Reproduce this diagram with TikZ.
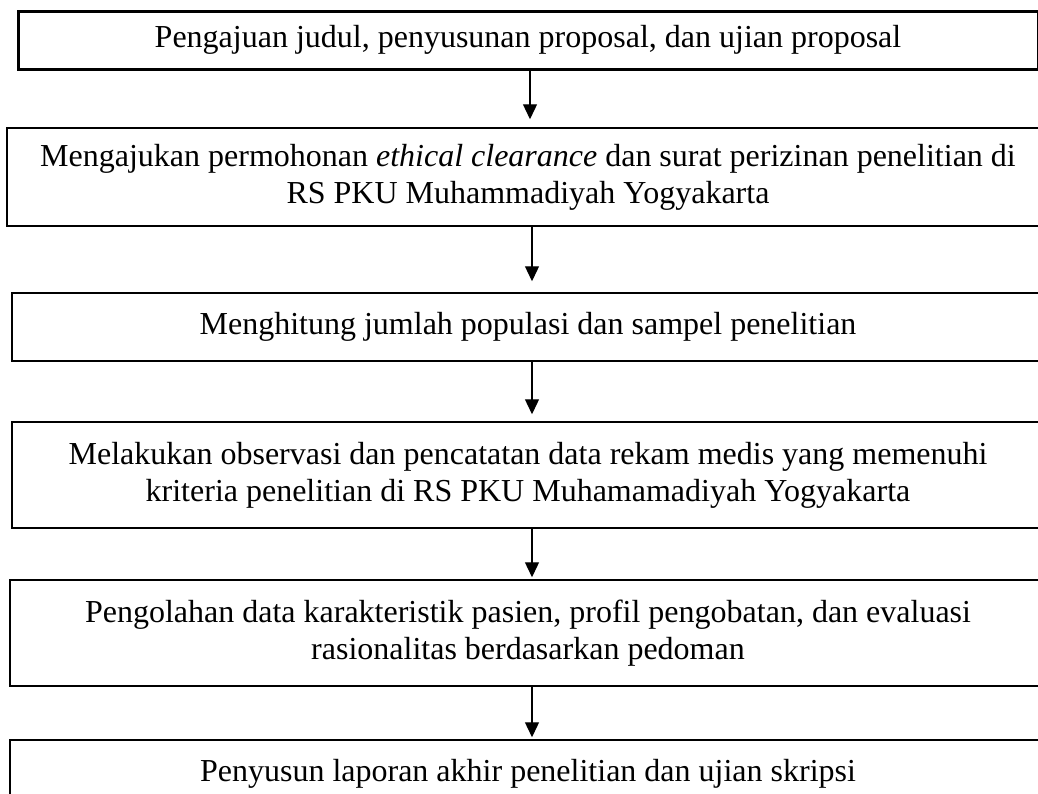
\documentclass[tikz,border=0pt]{standalone}
\usepackage{fontspec}
\setmainfont{Liberation Serif}
\usetikzlibrary{arrows.meta}
\begin{document}
\begin{tikzpicture}[x=0.5pt,y=-0.5pt]
            \tikzstyle{stepbox}=[rectangle,draw=black,line width=0.75pt,inner sep=0pt,align=center,font=\fontsize{16}{18.5}\selectfont]
            \tikzstyle{flow}=[-{Triangle[width=7pt,length=7.5pt]},line width=0.65pt]
            \useasboundingbox (0,0) rectangle (1038,793);
            \clip (0,0) rectangle (1038,793);

                \node[stepbox,line width=1.5pt,minimum width=510pt,minimum height=29pt] (s-1) at (528,40)
                    {Pengajuan judul, penyusunan proposal, dan ujian proposal};
                \node[stepbox,minimum width=521pt,minimum height=49pt] (s-2) at (528,177)
                    {Mengajukan permohonan \textit{ethical clearance} dan surat perizinan penelitian di\\RS PKU Muhammadiyah Yogyakarta};
                \node[stepbox,minimum width=516pt,minimum height=34pt] (s-3) at (528,327)
                    {Menghitung jumlah populasi dan sampel penelitian};
                \node[stepbox,minimum width=516pt,minimum height=53pt] (s-4) at (528,475)
                    {Melakukan observasi dan pencatatan data rekam medis yang memenuhi\\kriteria penelitian di RS PKU Muhamamadiyah Yogyakarta};
                \node[stepbox,minimum width=518pt,minimum height=53pt] (s-5) at (528,633)
                    {Pengolahan data karakteristik pasien, profil pengobatan, dan evaluasi\\rasionalitas berdasarkan pedoman};
                \node[stepbox,minimum width=518pt,minimum height=34pt] (s-6) at (528,774)
                    {Penyusun laporan akhir penelitian dan ujian skripsi};

                \foreach \from/\to/\dx/\gap in {1/2/1pt/4pt, 2/3/2pt/5.5pt, 3/4/2pt/3.5pt, 4/5/2pt/1pt, 5/6/2pt/1pt}
                    \draw[flow,shorten >=\gap] ([xshift=\dx]s-\from.south) -- ([xshift=\dx]s-\to.north);
        \end{tikzpicture}
\end{document}
